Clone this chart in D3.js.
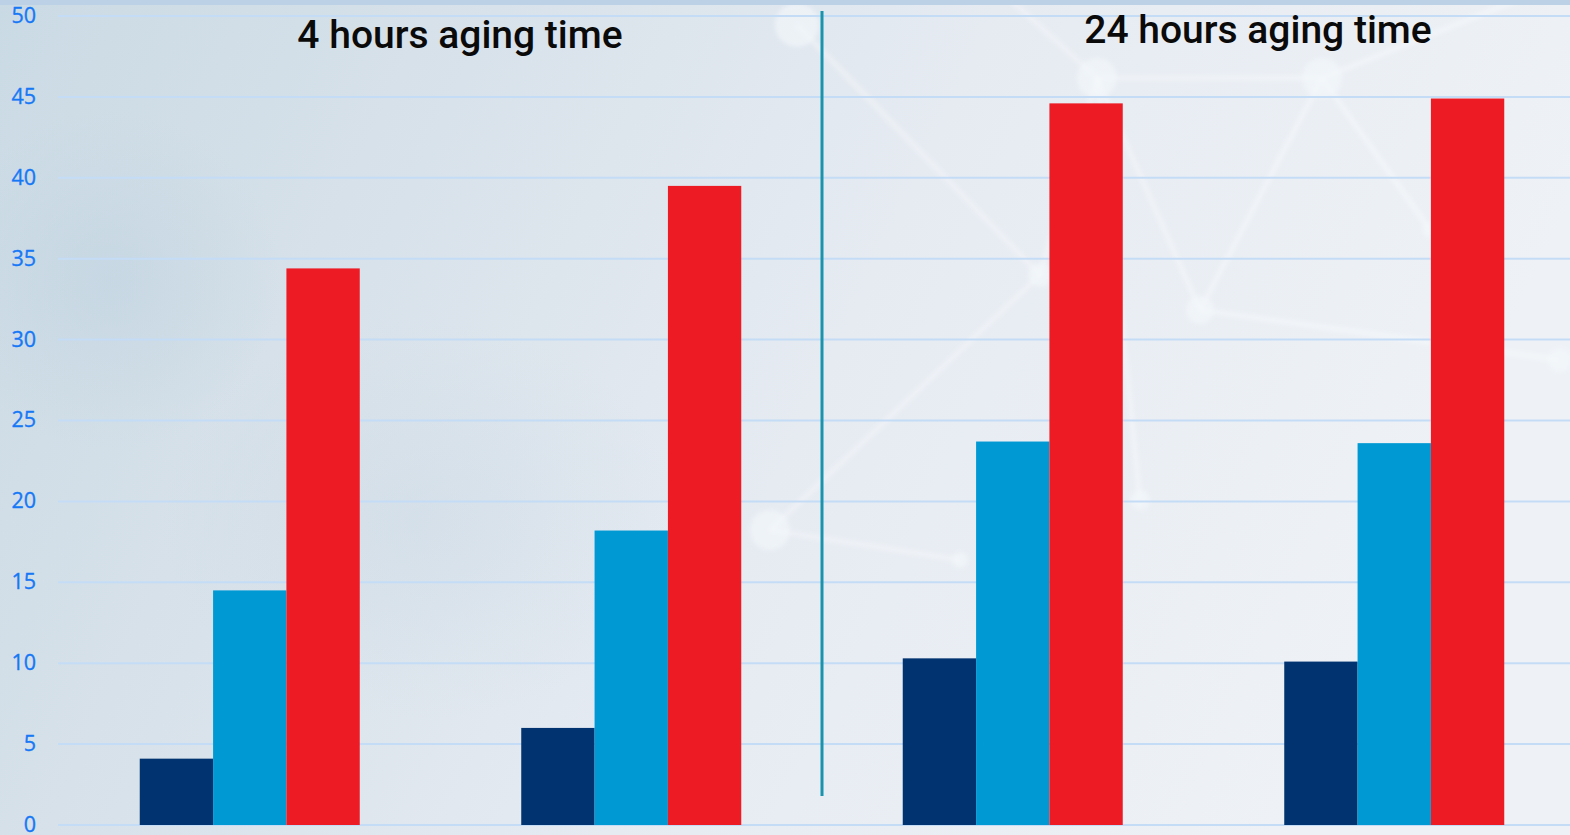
<!DOCTYPE html>
<html>
<head>
<meta charset="utf-8">
<script src="https://cdn.jsdelivr.net/npm/d3@7"></script>
<style>
  html, body { margin: 0; padding: 0; overflow: hidden; background: #e4eaf0; }
  svg { display: block; }
</style>
</head>
<body>
<svg id="chart" width="1570" height="835"></svg>
<script>
// ---- data ----
const groups = ["G1", "G2", "G3", "G4"];
const series = ["S1", "S2", "S3"];
const seriesColors = ["#003370", "#0099d4", "#ed1c24"];
const values = [
  [4.1, 14.5, 34.4],   // 4 h
  [6.0, 18.2, 39.5],   // 4 h
  [10.3, 23.7, 44.6],  // 24 h
  [10.1, 23.6, 44.9]   // 24 h
];
const yTicks = [0, 5, 10, 15, 20, 25, 30, 35, 40, 45, 50];
const panelTitles = ["4 hours aging time", "24 hours aging time"];

// ---- layout ----
const W = 1570, H = 835;
const svg = d3.select("#chart");
const defs = svg.append("defs");

// background wash: bluish grey on the left, paler on the right
const bg = defs.append("linearGradient").attr("id", "bgGrad")
  .attr("x1", 0).attr("y1", 0).attr("x2", 1).attr("y2", 0.25);
bg.append("stop").attr("offset", 0).attr("stop-color", "#cadae4");
bg.append("stop").attr("offset", 0.3).attr("stop-color", "#d8e2ea");
bg.append("stop").attr("offset", 0.6).attr("stop-color", "#e6ebf2");
bg.append("stop").attr("offset", 1).attr("stop-color", "#eef2f6");

const blob = defs.append("radialGradient").attr("id", "blobGrad");
blob.append("stop").attr("offset", 0).attr("stop-color", "#bfd2e0").attr("stop-opacity", 0.55);
blob.append("stop").attr("offset", 1).attr("stop-color", "#bfd2e0").attr("stop-opacity", 0);

const soft = defs.append("filter").attr("id", "soft")
  .attr("x", "-20%").attr("y", "-20%").attr("width", "140%").attr("height", "140%");
soft.append("feGaussianBlur").attr("stdDeviation", 2.2);

svg.append("rect").attr("width", W).attr("height", H).attr("fill", "url(#bgGrad)");
svg.append("ellipse").attr("cx", 110).attr("cy", 280).attr("rx", 170).attr("ry", 170)
  .attr("fill", "url(#blobGrad)");
svg.append("ellipse").attr("cx", 420).attr("cy", 520).attr("rx", 260).attr("ry", 200)
  .attr("fill", "url(#blobGrad)").attr("opacity", 0.5);

// decorative network of faint nodes and links
const netNodes = [
  [797, 25, 22], [1097, 78, 20], [1322, 78, 20], [1040, 275, 12],
  [770, 530, 20], [1200, 310, 14], [1000, -10, 6], [1530, -5, 6],
  [1430, 230, 8], [960, 560, 8], [1140, 500, 10], [1560, 360, 12]
];
const netLinks = [
  [0, 3], [1, 2], [1, 6], [2, 7], [2, 8], [1, 5], [2, 5], [3, 4],
  [4, 9], [1, 10], [5, 11], [3, 1]
];
const net = svg.append("g").attr("filter", "url(#soft)");
net.selectAll("line").data(netLinks).join("line")
  .attr("x1", d => netNodes[d[0]][0]).attr("y1", d => netNodes[d[0]][1])
  .attr("x2", d => netNodes[d[1]][0]).attr("y2", d => netNodes[d[1]][1])
  .attr("stroke", "#ffffff").attr("stroke-opacity", 0.32).attr("stroke-width", 5);
net.selectAll("circle").data(netNodes).join("circle")
  .attr("cx", d => d[0]).attr("cy", d => d[1]).attr("r", d => d[2])
  .attr("fill", "#f4f8fc").attr("fill-opacity", 0.6);

// top band
svg.append("rect").attr("x", 0).attr("y", 0).attr("width", W).attr("height", 5)
  .attr("fill", "#bcd0e6");

// ---- scales ----
const y = d3.scaleLinear().domain([0, 50]).range([825, 16]);
const x0 = d3.scaleBand().domain(groups).range([59, 1585])
  .paddingInner(0.4233).paddingOuter(0.21165);
const x1 = d3.scaleBand().domain(series).range([0, x0.bandwidth()]);

// gridlines
svg.append("g").selectAll("line").data(yTicks).join("line")
  .attr("x1", 58).attr("x2", W)
  .attr("y1", d => y(d)).attr("y2", d => y(d))
  .attr("stroke", "#c4dcf6").attr("stroke-width", 2);

// y axis labels
const yAxis = d3.axisLeft(y).tickValues(yTicks).tickSize(0).tickPadding(0);
const ya = svg.append("g").attr("transform", "translate(36,0)").call(yAxis);
ya.select(".domain").remove();
ya.selectAll("text")
  .attr("fill", "#1778f6")
  .attr("stroke", "#1778f6")
  .attr("stroke-width", 0.35)
  .attr("font-family", "'Open Sans', 'Noto Sans', sans-serif")
  .attr("font-size", 21.5)
  .attr("dy", "0.3em");

// bars
const gBars = svg.append("g").selectAll("g").data(values).join("g")
  .attr("transform", (d, i) => `translate(${x0(groups[i])},0)`);
gBars.selectAll("rect").data(d => d.map((v, j) => ({ v, s: series[j], c: seriesColors[j] })))
  .join("rect")
  .attr("x", d => x1(d.s))
  .attr("width", x1.bandwidth())
  .attr("y", d => y(d.v))
  .attr("height", d => y(0) - y(d.v))
  .attr("fill", d => d.c);

// divider between the two aging times
const divX = (x0(groups[1]) + x0.bandwidth() + x0(groups[2])) / 2;
svg.append("line")
  .attr("x1", divX).attr("x2", divX)
  .attr("y1", 11).attr("y2", 796)
  .attr("stroke", "#1a93ad").attr("stroke-width", 3);

// panel titles
const titleX = [460, 1258];
const titleY = [48, 43];
svg.append("g").selectAll("text").data(panelTitles).join("text")
  .attr("x", (d, i) => titleX[i]).attr("y", (d, i) => titleY[i])
  .attr("text-anchor", "middle")
  .attr("font-family", "Roboto, sans-serif")
  .attr("font-weight", 500)
  .attr("font-size", 39)
  .attr("fill", "#0a0a0a")
  .text(d => d);
</script>
</body>
</html>
